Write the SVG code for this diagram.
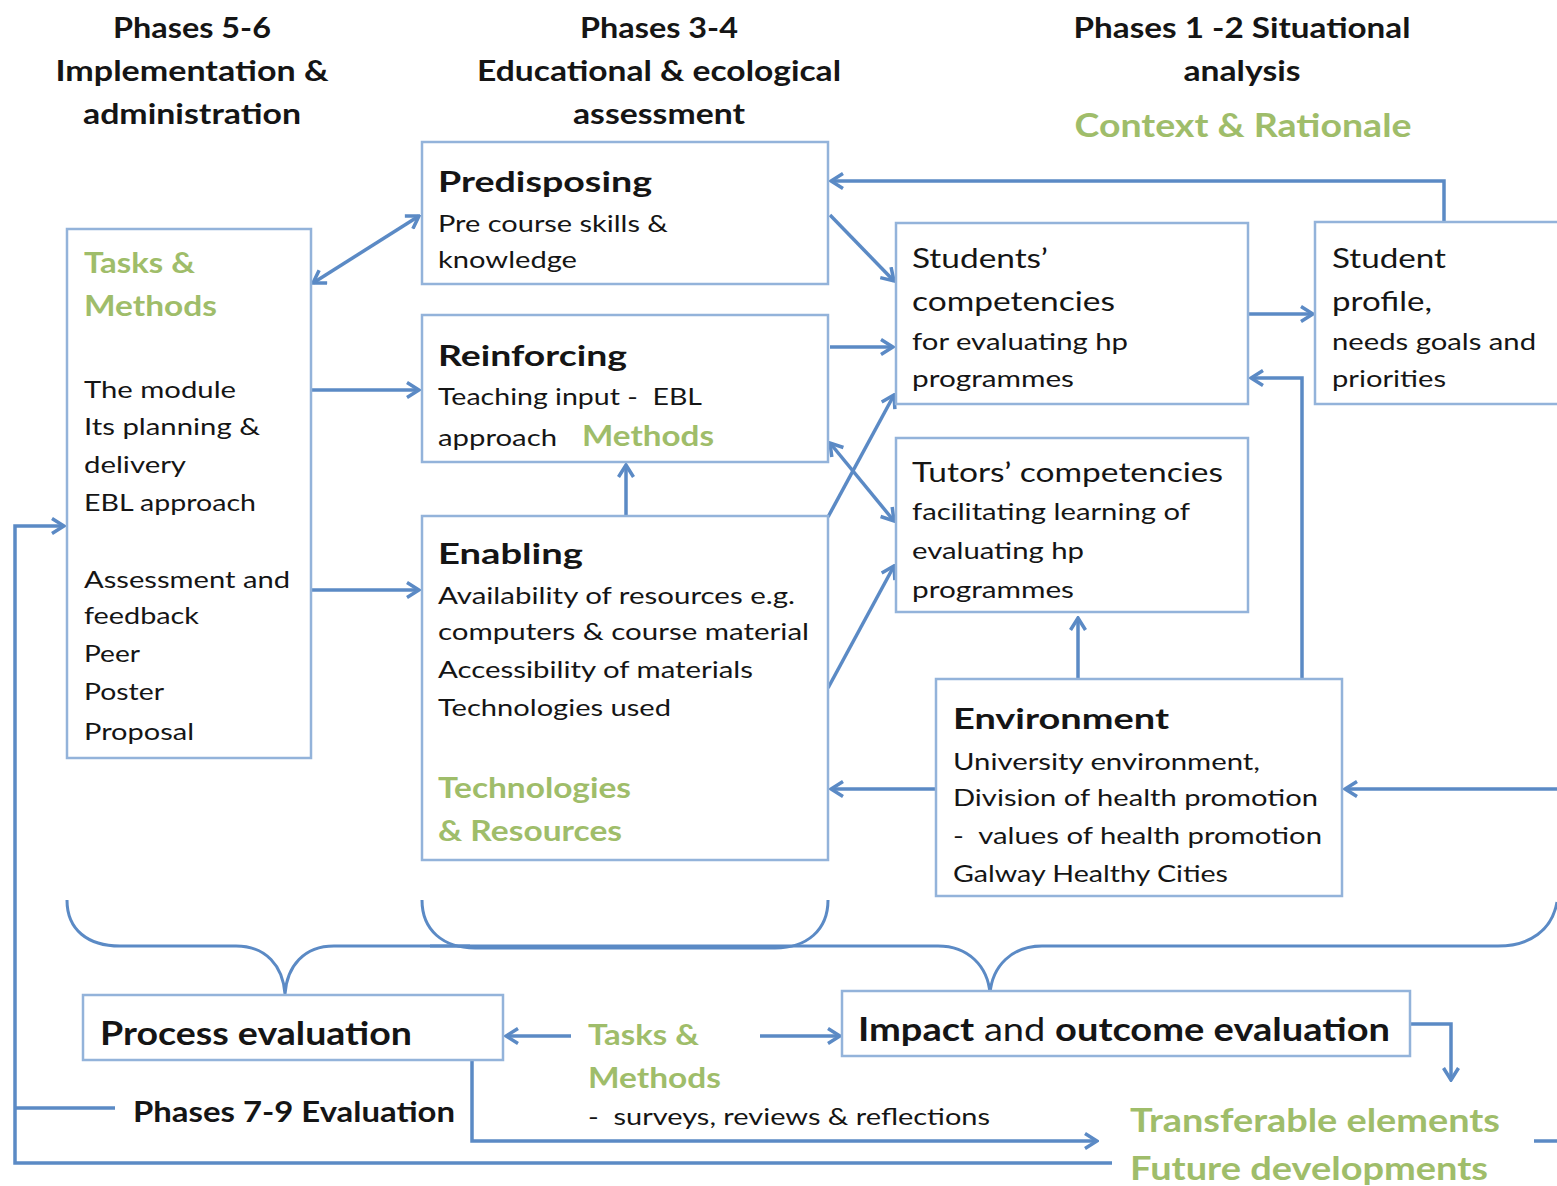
<svg xmlns="http://www.w3.org/2000/svg" width="1557" height="1186" viewBox="0 0 1557 1186">
<style>
text{font-family:Lato,"Open Sans","Liberation Sans",sans-serif;fill:#151515}
.h{font-size:28px;font-weight:bold;text-anchor:middle}
.t{font-size:29px;font-weight:bold}
.b{font-size:24px}
.m{font-size:26px}
.g{fill:#9fbd6a;font-weight:bold;font-size:29px}
.box{fill:#fff;stroke:#93b3da;stroke-width:2.5}
.c{fill:none;stroke:#5b8ac5;stroke-width:3.5}
.a{marker-end:url(#ah)}
.d{marker-start:url(#ah);marker-end:url(#ah)}
.br{fill:none;stroke:#5b8ac5;stroke-width:3}
</style>
<defs>
<marker id="ah" viewBox="0 0 16 18" refX="14" refY="9" markerWidth="16" markerHeight="18" markerUnits="userSpaceOnUse" orient="auto-start-reverse">
<path d="M2,1.5 L14,9 L2,16.5" fill="none" stroke="#5b8ac5" stroke-width="3.5"/>
</marker>
</defs>
<rect width="1557" height="1186" fill="#fff"/>

<g id="headers">
<text class="h" x="192" y="38" textLength="158" lengthAdjust="spacingAndGlyphs">Phases 5-6</text>
<text class="h" x="192" y="81" textLength="273" lengthAdjust="spacingAndGlyphs">Implementation &amp;</text>
<text class="h" x="192" y="124" textLength="218" lengthAdjust="spacingAndGlyphs">administration</text>
<text class="h" x="659" y="38" textLength="158" lengthAdjust="spacingAndGlyphs">Phases 3-4</text>
<text class="h" x="659" y="81" textLength="364" lengthAdjust="spacingAndGlyphs">Educational &amp; ecological</text>
<text class="h" x="659" y="124" textLength="172" lengthAdjust="spacingAndGlyphs">assessment</text>
<text class="h" x="1242" y="38" textLength="337" lengthAdjust="spacingAndGlyphs">Phases 1 -2 Situational</text>
<text class="h" x="1242" y="81" textLength="117" lengthAdjust="spacingAndGlyphs">analysis</text>
<text class="h" x="1243" y="137" style="fill:#9fbd6a;font-size:32px" textLength="337" lengthAdjust="spacingAndGlyphs">Context &amp; Rationale</text>
</g>

<g id="connectors">
<path class="c d" d="M313,283 L419,216"/>
<path class="c a" d="M311,390 L419,390"/>
<path class="c a" d="M311,590 L419,590"/>
<path class="c a" d="M626,516 L626,465"/>
<path class="c a" d="M830,215 L894,281"/>
<path class="c a" d="M830,347 L893,347"/>
<path class="c a" d="M828,517 L894,395"/>
<path class="c d" d="M830,443 L894,521"/>
<path class="c a" d="M828,688 L894,566"/>
<path class="c a" d="M1078,679 L1078,618"/>
<path class="c a" d="M936,789 L831,789"/>
<path class="c a" d="M1302,679 L1302,378 L1251,378"/>
<path class="c a" d="M1248,314 L1313,314"/>
<path class="c a" d="M1444,222 L1444,181 L831,181"/>
<path class="c a" d="M1557,789 L1345,789"/>
<path class="c a" d="M1112,1163 L15,1163 L15,526 L64,526"/>
<path class="c" d="M15,1108 L115,1108"/>
<path class="c a" d="M472,1060 L472,1141 L1097,1141"/>
<path class="c a" d="M571,1036 L506,1036"/>
<path class="c a" d="M760,1036 L840,1036"/>
<path class="c a" d="M1410,1024 L1451,1024 L1451,1080"/>
<path class="c" d="M1534,1141 L1557,1141"/>
<path class="br" d="M67,900 C67,930 88,946 120,946 L236,946 C266,946 283,966 285,994 C287,966 304,946 334,946 L470,946"/>
<path class="br" d="M422,900 C422,930 443,948 475,948 L775,948 C807,948 828,930 828,900"/>
<path class="br" d="M1557,902 C1552,930 1530,946 1498,946 L1042,946 C1012,946 992,966 990,994 C988,966 968,946 938,946 L430,946"/>
</g>

<g id="tasks-methods">
<rect class="box" x="67" y="229" width="244" height="529"/>
<text class="g" x="84" y="273" textLength="111" lengthAdjust="spacingAndGlyphs">Tasks &amp;</text>
<text class="g" x="84" y="316" textLength="133" lengthAdjust="spacingAndGlyphs">Methods</text>
<text class="b" x="84" y="398" textLength="152" lengthAdjust="spacingAndGlyphs">The module</text>
<text class="b" x="84" y="435" textLength="176" lengthAdjust="spacingAndGlyphs">Its planning &amp;</text>
<text class="b" x="84" y="473" textLength="102" lengthAdjust="spacingAndGlyphs">delivery</text>
<text class="b" x="84" y="511" textLength="172" lengthAdjust="spacingAndGlyphs">EBL approach</text>
<text class="b" x="84" y="588" textLength="206" lengthAdjust="spacingAndGlyphs">Assessment and</text>
<text class="b" x="84" y="624" textLength="115" lengthAdjust="spacingAndGlyphs">feedback</text>
<text class="b" x="84" y="662" textLength="56" lengthAdjust="spacingAndGlyphs">Peer</text>
<text class="b" x="84" y="700" textLength="80" lengthAdjust="spacingAndGlyphs">Poster</text>
<text class="b" x="84" y="740" textLength="110" lengthAdjust="spacingAndGlyphs">Proposal</text>
</g>

<g id="predisposing">
<rect class="box" x="422" y="142" width="406" height="142"/>
<text class="t" x="438" y="192" textLength="214" lengthAdjust="spacingAndGlyphs">Predisposing</text>
<text class="b" x="438" y="232" textLength="230" lengthAdjust="spacingAndGlyphs">Pre course skills &amp;</text>
<text class="b" x="438" y="268" textLength="139" lengthAdjust="spacingAndGlyphs">knowledge</text>
</g>

<g id="reinforcing">
<rect class="box" x="422" y="315" width="406" height="147"/>
<text class="t" x="438" y="366" textLength="189" lengthAdjust="spacingAndGlyphs">Reinforcing</text>
<text class="b" x="438" y="405" textLength="264" lengthAdjust="spacingAndGlyphs">Teaching input -&#160; EBL</text>
<text class="b" x="438" y="446" textLength="119" lengthAdjust="spacingAndGlyphs">approach</text>
<text class="g" x="582" y="446" textLength="132" lengthAdjust="spacingAndGlyphs">Methods</text>
</g>

<g id="enabling">
<rect class="box" x="422" y="516" width="406" height="344"/>
<text class="t" x="438" y="564" textLength="145" lengthAdjust="spacingAndGlyphs">Enabling</text>
<text class="b" x="438" y="604" textLength="357" lengthAdjust="spacingAndGlyphs">Availability of resources e.g.</text>
<text class="b" x="438" y="640" textLength="371" lengthAdjust="spacingAndGlyphs">computers &amp; course material</text>
<text class="b" x="438" y="678" textLength="315" lengthAdjust="spacingAndGlyphs">Accessibility of materials</text>
<text class="b" x="438" y="716" textLength="233" lengthAdjust="spacingAndGlyphs">Technologies used</text>
<text class="g" x="438" y="798" textLength="193" lengthAdjust="spacingAndGlyphs">Technologies</text>
<text class="g" x="438" y="841" textLength="184" lengthAdjust="spacingAndGlyphs">&amp; Resources</text>
</g>

<g id="students-competencies">
<rect class="box" x="896" y="223" width="352" height="181"/>
<text class="m" x="912" y="268" textLength="136" lengthAdjust="spacingAndGlyphs">Students’</text>
<text class="m" x="912" y="311" textLength="203" lengthAdjust="spacingAndGlyphs">competencies</text>
<text class="b" x="912" y="350" textLength="216" lengthAdjust="spacingAndGlyphs">for evaluating hp</text>
<text class="b" x="912" y="387" textLength="162" lengthAdjust="spacingAndGlyphs">programmes</text>
</g>

<g id="student-profile">
<rect class="box" x="1315" y="222" width="290" height="182"/>
<text class="m" x="1332" y="268" textLength="114" lengthAdjust="spacingAndGlyphs">Student</text>
<text class="m" x="1332" y="311" textLength="100" lengthAdjust="spacingAndGlyphs">profile,</text>
<text class="b" x="1332" y="350" textLength="204" lengthAdjust="spacingAndGlyphs">needs goals and</text>
<text class="b" x="1332" y="387" textLength="114" lengthAdjust="spacingAndGlyphs">priorities</text>
</g>

<g id="tutors-competencies">
<rect class="box" x="896" y="438" width="352" height="174"/>
<text class="m" x="912" y="482" textLength="311" lengthAdjust="spacingAndGlyphs">Tutors’ competencies</text>
<text class="b" x="912" y="520" textLength="278" lengthAdjust="spacingAndGlyphs">facilitating learning of</text>
<text class="b" x="912" y="559" textLength="172" lengthAdjust="spacingAndGlyphs">evaluating hp</text>
<text class="b" x="912" y="598" textLength="162" lengthAdjust="spacingAndGlyphs">programmes</text>
</g>

<g id="environment">
<rect class="box" x="936" y="679" width="406" height="217"/>
<text class="t" x="953" y="729" textLength="216" lengthAdjust="spacingAndGlyphs">Environment</text>
<text class="b" x="953" y="770" textLength="307" lengthAdjust="spacingAndGlyphs">University environment,</text>
<text class="b" x="953" y="806" textLength="365" lengthAdjust="spacingAndGlyphs">Division of health promotion</text>
<text class="b" x="953" y="844" textLength="369" lengthAdjust="spacingAndGlyphs">-&#160; values of health promotion</text>
<text class="b" x="953" y="882" textLength="275" lengthAdjust="spacingAndGlyphs">Galway Healthy Cities</text>
</g>

<g id="process-evaluation">
<rect class="box" x="83" y="995" width="420" height="65"/>
<text class="t" x="100" y="1045" style="font-size:32px" textLength="312" lengthAdjust="spacingAndGlyphs">Process evaluation</text>
</g>

<g id="impact-outcome-evaluation">
<rect class="box" x="842" y="991" width="568" height="65"/>
<text x="858" y="1041" style="font-size:32px" textLength="532" lengthAdjust="spacingAndGlyphs"><tspan font-weight="bold">Impact</tspan> and <tspan font-weight="bold">outcome evaluation</tspan></text>
</g>

<g id="evaluation-methods">
<text class="g" x="588" y="1045" textLength="111" lengthAdjust="spacingAndGlyphs">Tasks &amp;</text>
<text class="g" x="588" y="1088" textLength="133" lengthAdjust="spacingAndGlyphs">Methods</text>
<text class="b" x="588" y="1125" textLength="402" lengthAdjust="spacingAndGlyphs">-&#160; surveys, reviews &amp; reflections</text>
</g>

<g id="phases-7-9">
<text x="133" y="1122" style="font-size:28px;font-weight:bold" textLength="322" lengthAdjust="spacingAndGlyphs">Phases 7-9 Evaluation</text>
</g>

<g id="transferable">
<text class="g" x="1130" y="1132" style="font-size:32px" textLength="370" lengthAdjust="spacingAndGlyphs">Transferable elements</text>
<text class="g" x="1130" y="1180" style="font-size:32px" textLength="358" lengthAdjust="spacingAndGlyphs">Future developments</text>
</g>
</svg>
